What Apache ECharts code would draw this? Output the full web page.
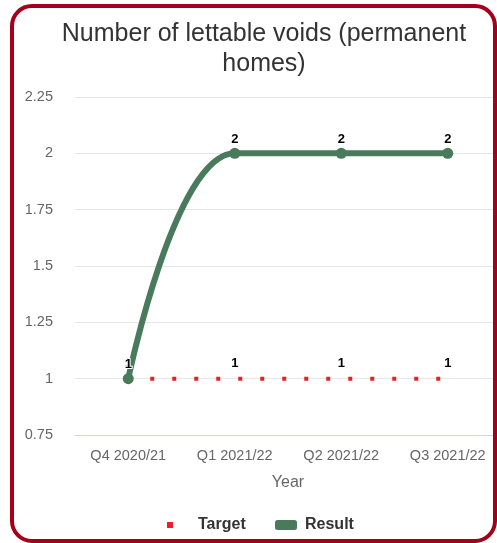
<!DOCTYPE html>
<html><head><meta charset="utf-8">
<script src="https://cdn.jsdelivr.net/npm/echarts@6/dist/echarts.min.js"></script>
<style>
html,body{margin:0;padding:0;background:#fff;overflow:hidden;width:497px;height:543px;}
#c{position:absolute;left:0;top:0;width:520px;height:543px;}
#b{position:absolute;left:10px;top:4px;width:487px;height:539px;box-sizing:border-box;border:4px solid #a3001b;border-radius:22px;pointer-events:none;}
</style></head>
<body><div id="c"></div><div id="b"></div>
<script>
const categories = ['Q4 2020/21','Q1 2021/22','Q2 2021/22','Q3 2021/22'];
const targetValues = [1,1,1,1];
const resultValues = [1,2,2,2];
const yTicks = {min:0.75, max:2.25, interval:0.25};

const font = 'Liberation Sans, Arial, sans-serif';
const chart = echarts.init(document.getElementById('c'));
const labelBase = {show:true, position:'top', color:'#000', fontWeight:'bold', fontSize:13, fontFamily:font, textBorderColor:'#fff', textBorderWidth:2};
chart.setOption({
  animation:false,
  title:{text:'Number of lettable voids (permanent\nhomes)', left:259, textAlign:'center', top:14,
    textStyle:{fontFamily:font, fontSize:25, fontWeight:'normal', color:'#333', lineHeight:30}},
  grid:{left:75, width:426, top:97, bottom:108},
  legend:[
    {data:[{name:'Target', icon:'rect', itemStyle:{color:'#ee1c24'}}], left:167, top:517, padding:0, itemWidth:6, itemHeight:6,
     textStyle:{fontFamily:font, fontSize:16, fontWeight:'bold', color:'#333', padding:[0,0,0,20]}},
    {data:[{name:'Result', icon:'roundRect', itemStyle:{color:'#4a7a5c'}}], left:275, top:517, padding:0, itemWidth:22, itemHeight:10,
     textStyle:{fontFamily:font, fontSize:16, fontWeight:'bold', color:'#333', padding:[0,0,0,3]}}
  ],
  xAxis:{type:'category', data:categories, boundaryGap:true,
    name:'Year', nameLocation:'middle', nameGap:40, nameTextStyle:{fontFamily:font, fontSize:16, color:'#666'},
    axisLine:{lineStyle:{color:'#ccd6eb'}}, axisTick:{show:false},
    axisLabel:{fontFamily:font, fontSize:14.5, color:'#666', margin:13}},
  yAxis:{type:'value', min:yTicks.min, max:yTicks.max, interval:yTicks.interval,
    axisLine:{show:false}, axisTick:{show:false},
    axisLabel:{fontFamily:font, fontSize:14.5, color:'#666', margin:22},
    splitLine:{lineStyle:{color:'#e6e6e6'}}},
  series:[
    {name:'Target', type:'line', data:targetValues, symbol:'rect', symbolSize:0.1, z:2,
     itemStyle:{color:'#ee1c24'}, lineStyle:{color:'#ee1c24', width:4, type:[4,18]},
     label:Object.assign({}, labelBase, {distance:9})},
    {name:'Result', type:'line', data:resultValues, smooth:0.4, symbol:'circle', symbolSize:11, z:3,
     itemStyle:{color:'#4a7a5c'}, lineStyle:{color:'#4a7a5c', width:6},
     label:Object.assign({}, labelBase, {distance:2})}
  ]
});
</script></body></html>
